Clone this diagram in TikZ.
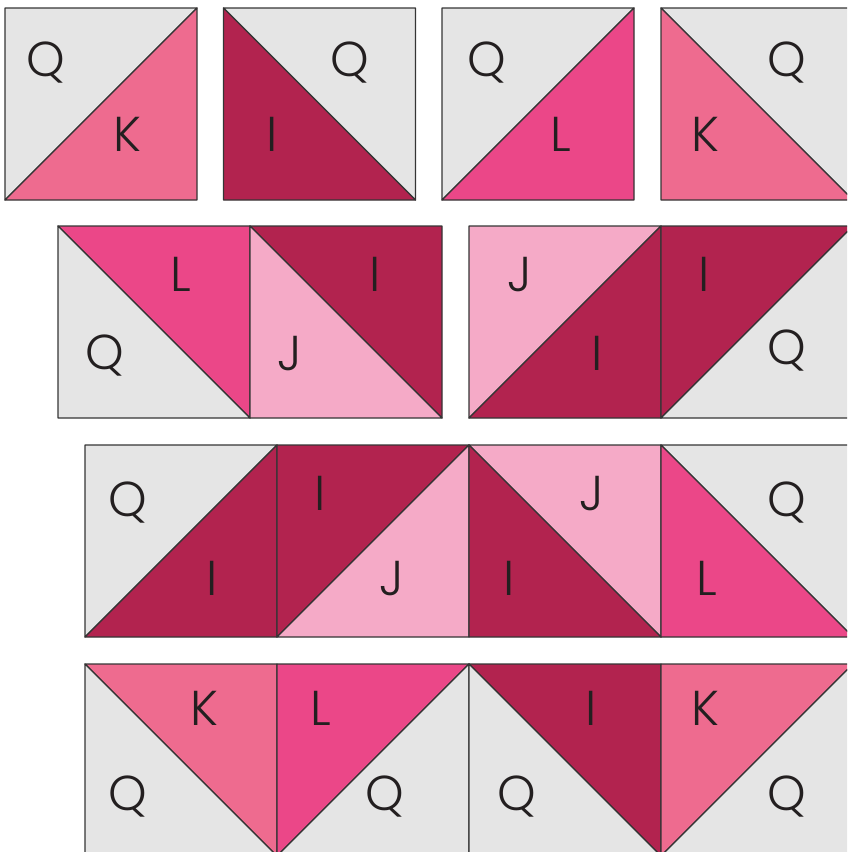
\documentclass[tikz,border=0pt]{standalone}
\usepackage{fontspec}
\setmainfont{Poppins}[UprightFont=* Light]
\definecolor{qgray}{HTML}{E5E5E5}
\definecolor{kpink}{HTML}{EE6B8F}
\definecolor{idark}{HTML}{B2234F}
\definecolor{lmag}{HTML}{EB4788}
\definecolor{jlight}{HTML}{F5AAC7}
\definecolor{edge}{HTML}{353535}
\definecolor{ink}{HTML}{231F20}
% slash square: #1 x, #2 y (top-left), #3 upper-left colour, #4 lower-right colour
\newcommand\hstslash[4]{%
  \filldraw[patch,fill=#3] (#1,#2) -- ++(192,0) -- ++(-192,192) -- cycle;
  \filldraw[patch,fill=#4] (#1+192,#2) -- ++(0,192) -- ++(-192,0) -- cycle;}
% backslash square: #3 upper-right colour, #4 lower-left colour
\newcommand\hstback[4]{%
  \filldraw[patch,fill=#3] (#1,#2) -- ++(192,0) -- ++(0,192) -- cycle;
  \filldraw[patch,fill=#4] (#1,#2) -- ++(192,192) -- ++(-192,0) -- cycle;}
\begin{document}
\begin{tikzpicture}[x=1pt,y=-1pt,
  patch/.style={draw=edge,line width=1.2pt,line join=round},
  lab/.style={text=ink,font=\fontsize{49}{49}\selectfont,inner sep=0pt,anchor=base}]
\useasboundingbox (0,0) rectangle (847,852);
\clip (0,0) rectangle (847,852);
% row 1
\hstslash{5}{8}{qgray}{kpink}
\hstback{223.5}{8}{qgray}{idark}
\hstslash{442}{8}{qgray}{lmag}
\hstback{661}{8}{qgray}{kpink}
% row 2
\hstback{58}{226}{lmag}{qgray}
\hstback{250}{226}{idark}{jlight}
\hstslash{469}{226}{jlight}{idark}
\hstslash{661}{226}{idark}{qgray}
% row 3
\hstslash{85}{445}{qgray}{idark}
\hstslash{277}{445}{idark}{jlight}
\hstback{469}{445}{jlight}{idark}
\hstback{661}{445}{qgray}{lmag}
% row 4
\hstback{85}{664}{kpink}{qgray}
\hstslash{277}{664}{lmag}{qgray}
\hstback{469}{664}{idark}{qgray}
\hstslash{661}{664}{kpink}{qgray}
% labels row 1
\node[lab] (a1) at (45.5,76) {Q};
\node[lab] (a2) at (127,151.5) {K};
\node[lab] (a3) at (350,76) {Q};
\node[lab] (a4) at (271.7,151) {I};
\node[lab] (a5) at (486.7,76) {Q};
\node[lab] (a6) at (561,151.5) {L};
\node[lab] (a7) at (786.5,76) {Q};
\node[lab] (a8) at (705,151.5) {K};
% labels row 2
\node[lab] (b1) at (181,291.5) {L};
\node[lab] (b2) at (105,369.5) {Q};
\node[lab] (b3) at (375,291.5) {I};
\node[lab] (b4) at (290,370.5) {J};
\node[lab] (b5) at (520,291.5) {J};
\node[lab] (b6) at (596.7,370.5) {I};
\node[lab] (b7) at (704,291.5) {I};
\node[lab] (b8) at (786.5,364) {Q};
% labels row 3
\node[lab] (c1) at (127.5,516) {Q};
\node[lab] (c2) at (211.7,595.5) {I};
\node[lab] (c3) at (320,510) {I};
\node[lab] (c4) at (391.7,595.5) {J};
\node[lab] (c5) at (509,595.5) {I};
\node[lab] (c6) at (591.7,510) {J};
\node[lab] (c7) at (707,595.5) {L};
\node[lab] (c8) at (786.5,516) {Q};
% labels row 4
\node[lab] (d1) at (204,725) {K};
\node[lab] (d2) at (127.5,810.5) {Q};
\node[lab] (d3) at (321,725) {L};
\node[lab] (d4) at (385,810.5) {Q};
\node[lab] (d5) at (590.7,725) {I};
\node[lab] (d6) at (516.7,810.5) {Q};
\node[lab] (d7) at (705,725) {K};
\node[lab] (d8) at (786.5,810.5) {Q};
\end{tikzpicture}
\end{document}
